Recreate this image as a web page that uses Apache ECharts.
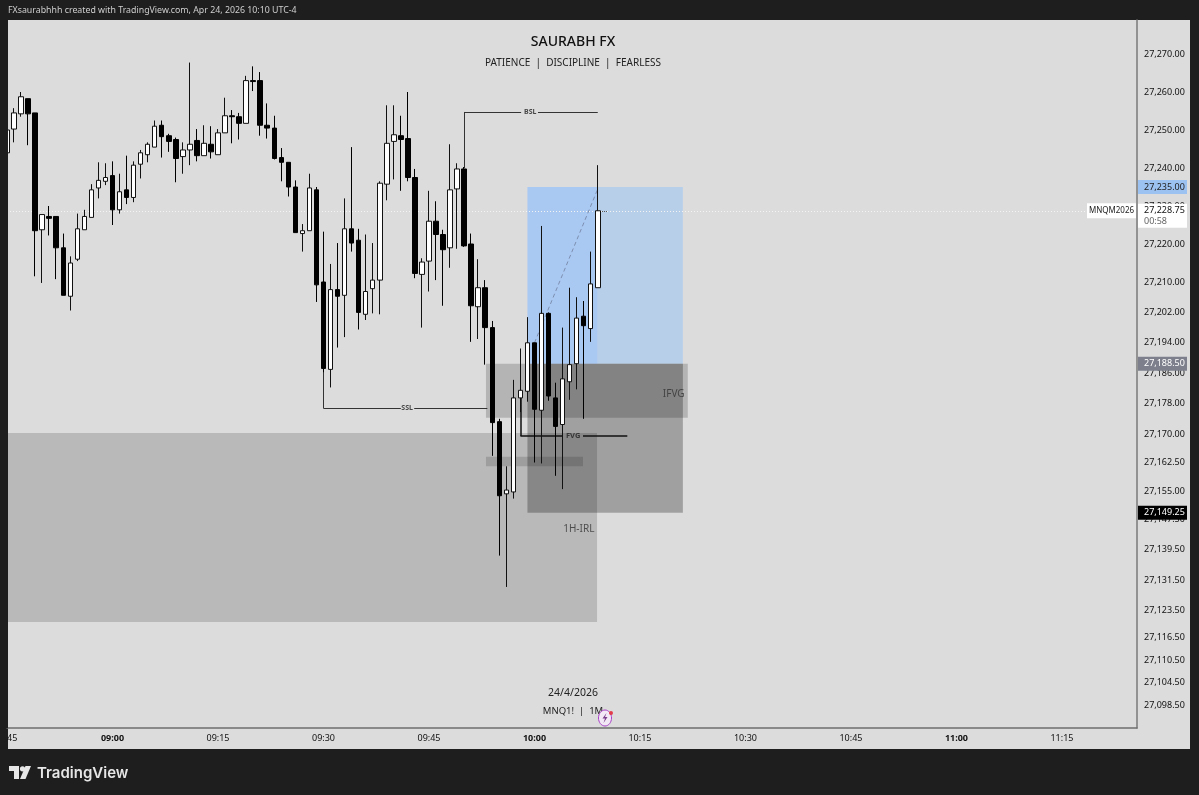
<!DOCTYPE html>
<html>
<head>
<meta charset="utf-8">
<title>SAURABH FX</title>
<script src="https://cdn.jsdelivr.net/npm/echarts@6/dist/echarts.min.js"></script>
<style>
  html, body { margin: 0; padding: 0; background: #1e1e1e; }
  #chart { width: 1199px; height: 795px; }
</style>
</head>
<body>
<div id="chart"></div>
<script>
// one candle per minute, first one is 08:45 (minutes since midnight)
const startMinute = 525
const opens = [27244,27250.25,27254.25,27258.25,27254.5,27223.75,27227.25,27227.25,27219,27206.25,27216,27223.75,27227,27234.75,27236.5,27238,27229,27234.25,27232.25,27241,27243.5,27245.5,27251.25,27248.5,27247.5,27243,27244.75,27247.25,27243.25,27246.25,27243.5,27249.25,27253.75,27253.5,27251.75,27263,27263,27251.25,27250.5,27242.75,27241.5,27235,27222.75,27223.5,27234.25,27210,27187,27208,27206.5,27224,27221,27201.5,27208.25,27210.5,27235.75,27247,27248.5,27247.75,27237.5,27212,27215.5,27226,27222.5,27219,27234.5,27239.75,27220,27203.5,27208.5,27198,27173.25,27154.25,27154.75,27179.5,27181.25,27194,27176.25,27201.75,27179.5,27172.5,27183.75,27188.5,27201,27197.75,27208.5]
const closes = [27250,27254.5,27258.75,27254.25,27223.5,27227.75,27226.75,27219,27206.5,27215,27224,27227.25,27234.25,27236.75,27237.5,27229,27233.75,27232.25,27240.75,27244,27246.25,27251,27248.25,27247,27242.5,27244.75,27246.25,27243.25,27246.5,27244.25,27249.25,27253.75,27253.5,27251.75,27263,27262.75,27251.25,27250.5,27242.5,27241.5,27235,27223,27223.5,27234.75,27209.25,27187.25,27208,27206.25,27224,27220.25,27202,27207.5,27210.5,27236,27246.5,27248.75,27247.5,27237.5,27212.25,27215.25,27226,27222.5,27218.5,27234.25,27239.75,27219.5,27203.75,27208.5,27198,27173,27153.75,27155.25,27179.5,27181.5,27194,27176.5,27201.75,27180,27172,27184.5,27188.25,27200.5,27198.5,27209.5,27228.75]
const lows = [27243.75,27246.75,27253.5,27246,27211.5,27209.75,27222.25,27210.75,27206.5,27202.5,27215.5,27223.75,27227,27232,27235.5,27225,27228,27230.5,27231,27237.25,27241.5,27245.5,27242.75,27244.25,27236.25,27238.5,27240.75,27241.75,27243.25,27242.5,27243.5,27249.25,27246.5,27247.5,27251.75,27260.25,27248.5,27247.75,27242.25,27236.5,27232.5,27223,27218,27223.5,27204.75,27186.25,27182.25,27192.75,27195.5,27218,27197.5,27200,27201.75,27201.5,27231.5,27237,27234,27236.5,27211,27198,27207.5,27210.5,27203.75,27213.75,27218.75,27219.25,27194.25,27195,27188.25,27164.25,27138,27129.75,27153,27175.75,27178.5,27162.5,27162.25,27178.75,27159,27155.5,27179,27181.75,27174,27194.25,27208.5]
const highs = [27250.25,27255.75,27260,27258.25,27254.5,27227.75,27230,27227.25,27222.75,27216.75,27228,27229,27235.75,27241.5,27241.25,27241.75,27238.5,27243.25,27241.75,27244.75,27246.75,27252.5,27252.5,27249,27248,27246.75,27267.75,27250.25,27251.25,27251,27250.25,27258.5,27255.25,27254.5,27264.25,27266.75,27265.25,27257,27253.75,27245.25,27241.5,27236.75,27225.25,27238.5,27235,27223.25,27214.75,27220.25,27232,27245.5,27224,27222.5,27220.25,27236.5,27256.5,27256.5,27253.75,27260,27239.75,27216.25,27234,27231.25,27223.75,27246.25,27241.25,27240.25,27222.75,27216,27210.5,27199.75,27174,27161.5,27184.25,27192.5,27200.75,27194,27224.75,27202,27183.5,27198,27208.5,27206,27205,27218,27240.75]

const priceTicks = [27270,27260,27250,27240,27230,27220,27210,27202,27194,27186,27178,27170,27162.5,27155,27147.5,27139.5,27131.5,27123.5,27116.5,27110.5,27104.5,27098.5]
const lastPrice = 27228.75
const targetPrice = 27235
const entryPrice = 27188.5
const stopPrice = 27149.25

// zones: minute from, minute to, price top, price bottom
const irlZone = [525, 608.9, 27170.25, 27120.5]
const targetZoneLeft = [599, 609, targetPrice, entryPrice]
const targetZoneRight = [609, 621.1, targetPrice, entryPrice]
const stopZone = [599, 621.1, entryPrice, stopPrice]
const ifvgZone = [593.1, 621.8, entryPrice, 27174.25]
const fvgStrip = [593.1, 606.9, 27164, 27161.5]

// drawn lines: minute, price, minute, price
const bslLines = [[590, 27254.75, 590, 27240], [590, 27254.75, 598.1, 27254.75], [600.5, 27254.75, 609, 27254.75]]
const sslLines = [[570, 27176.75, 570, 27187.25], [570, 27176.75, 581, 27176.75], [582.9, 27176.75, 593.3, 27176.75]]
const fvgLines = [[598, 27169.5, 598, 27179.75], [598, 27169.5, 604, 27169.5], [606.9, 27169.5, 613.2, 27169.5]]
const tradePath = [[600, 27194], [609, 27234.5]]
const lastPriceDash = [[609.6, lastPrice], [610.4, lastPrice]]

const lineNames = ['BSL', 'SSL', 'FVG']
const lineNameMinutes = [599.4, 581.9, 605.5]
const lineNamePrices = [27254.75, 27176.75, 27169.5]
const zoneNames = ['IFVG', '1H-IRL']
const zoneNameMinutes = [619.8, 606.3]
const zoneNamePrices = [27180.5, 27145]

const FONT = '"Noto Sans", sans-serif'

function zone(z, color) {
  return [
    { xAxis: z[0], yAxis: z[2], itemStyle: { color: color } },
    { xAxis: z[1], yAxis: z[3] }
  ]
}

function segment(s, color, width) {
  return [
    { coord: [s[0], s[1]], lineStyle: { color: color, width: width, type: 'solid' } },
    { coord: [s[2], s[3]] }
  ]
}

function headline(text, left, top, font, size, weight, color) {
  return { text: text, left: left, top: top, padding: 0, textAlign: left === 573 ? 'center' : 'left',
    textStyle: { fontFamily: font, fontSize: size, fontWeight: weight, color: color } }
}

const chart = echarts.init(document.getElementById('chart'))

const option = {
  backgroundColor: '#1e1e1e',
  animation: false,
  grid: { left: 7, right: 62, top: 20, bottom: 67 },
  title: [
    headline('SAURABH FX', 573, 35, FONT, 14, 500, '#111'),
    headline('PATIENCE  |  DISCIPLINE  |  FEARLESS', 573, 58, FONT, 10, 'normal', '#222'),
    headline('24/4/2026', 573, 688, FONT, 10.5, 'normal', '#222'),
    headline('MNQ1!  |  1M', 573, 706, FONT, 9.5, 'normal', '#222'),
    headline('FXsaurabhhh created with TradingView.com, Apr 24, 2026 10:10 UTC-4', 8, 6, FONT, 8.8, 'normal', '#cfcfcf'),
    headline('TradingView', 37, 766, '"Inter", sans-serif', 15, 600, '#e6e6e6')
  ],
  xAxis: {
    type: 'value',
    min: startMinute,
    max: 685.67,
    interval: 15,
    splitLine: { show: false },
    axisTick: { show: false },
    axisLine: { onZero: false, lineStyle: { color: '#6e6e6e', width: 1.5 } },
    axisLabel: {
      margin: 6,
      showMaxLabel: false,
      alignMinLabel: 'left',
      fontFamily: FONT,
      fontSize: 9,
      color: '#111',
      formatter: function (m) {
        const h = Math.floor(m / 60)
        const min = m % 60
        if (m === startMinute) return '45'
        const text = (h < 10 ? '0' : '') + h + ':' + (min < 10 ? '0' : '') + min
        return min === 0 ? '{b|' + text + '}' : text
      },
      rich: { b: { fontFamily: FONT, fontSize: 9, fontWeight: 'bold', color: '#111' } }
    }
  },
  yAxis: {
    type: 'value',
    position: 'right',
    min: 27092.63,
    max: 27278.95,
    scale: true,
    splitLine: { show: false },
    axisTick: { show: false },
    axisLine: { show: true, lineStyle: { color: '#7a7a7a', width: 1.5 } },
    axisLabel: {
      customValues: priceTicks,
      margin: 7,
      padding: [2, 0, 0, 0],
      fontFamily: FONT,
      fontSize: 9,
      color: '#111',
      formatter: function (p) {
        return p.toLocaleString('en-US', { minimumFractionDigits: 2, maximumFractionDigits: 2 })
      }
    }
  },
  series: [
    {
      type: 'candlestick',
      barWidth: 5,
      z: 5,
      encode: { x: 0, y: [1, 2, 3, 4] },
      data: opens.map((o, i) => [startMinute + i, o, closes[i], lows[i], highs[i]]),
      itemStyle: { color: '#ffffff', color0: '#000000', borderColor: '#111111', borderColor0: '#000000', borderWidth: 1 },
      markArea: {
        silent: true,
        data: [
          zone(targetZoneLeft, '#a9c8f2'),
          zone(targetZoneRight, '#b8cfea'),
          zone(irlZone, 'rgba(0,0,0,0.155)'),
          zone(stopZone, 'rgba(0,0,0,0.27)'),
          zone(ifvgZone, 'rgba(0,0,0,0.18)'),
          zone(fvgStrip, 'rgba(0,0,0,0.14)')
        ]
      },
      markLine: {
        silent: true,
        symbol: 'none',
        label: { show: false },
        data: [
          { yAxis: lastPrice, lineStyle: { color: '#f4f4f4', width: 1, type: [1, 2] } }
        ]
      }
    },
    {
      // BSL / SSL / FVG brackets and the trade path, above the candles
      type: 'line',
      z: 6,
      data: [],
      markLine: {
        silent: true,
        symbol: 'none',
        label: { show: false },
        data: bslLines.map(s => segment(s, '#333', 1))
          .concat(sslLines.map(s => segment(s, '#333', 1)))
          .concat(fvgLines.map(s => segment(s, '#111', 1.5)))
          .concat([[
            { coord: tradePath[0], lineStyle: { color: '#7d8fb0', width: 1, type: [4, 3] } },
            { coord: tradePath[1] }
          ], [
            { coord: lastPriceDash[0], lineStyle: { color: '#555', width: 1, type: [1, 1] } },
            { coord: lastPriceDash[1] }
          ]])
      }
    },
    {
      type: 'scatter',
      symbolSize: 0,
      z: 7,
      silent: true,
      label: { show: true, position: 'inside', formatter: '{b}', fontFamily: FONT },
      data: lineNames.map((n, i) => ({
        name: n,
        value: [lineNameMinutes[i], lineNamePrices[i]],
        label: { fontSize: n === 'FVG' ? 7.5 : 7, fontWeight: 'bold', color: '#222' }
      })).concat(zoneNames.map((n, i) => ({
        name: n,
        value: [zoneNameMinutes[i], zoneNamePrices[i]],
        label: { fontSize: 10, color: '#333' }
      })))
    }
  ]
}

chart.setOption(option)

// axis panels behind the grid, price tags on top of the axis labels
function tag(price, text, bg, fg) {
  const y = chart.convertToPixel({ yAxisIndex: 0 }, price)
  return {
    type: 'group',
    z: 100,
    children: [
      { type: 'rect', z: 100, shape: { x: 1138, y: y - 7, width: 49, height: 14 }, style: { fill: bg } },
      { type: 'text', z: 101, style: { x: 1144, y: y, text: text, fill: fg, font: '9px ' + FONT, textVerticalAlign: 'middle' } }
    ]
  }
}

const lastY = chart.convertToPixel({ yAxisIndex: 0 }, lastPrice)

chart.setOption({
  graphic: [
    { type: 'rect', z: -10, silent: true, shape: { x: 8, y: 20, width: 1182, height: 729 }, style: { fill: '#dcdcdc' } },
    // the 08:45 candle is cut off at the panel edge
    { type: 'rect', z: 50, silent: true, shape: { x: 0, y: 20, width: 8, height: 708 }, style: { fill: '#1e1e1e' } },
    tag(targetPrice, '27,235.00', '#9cc2f2', '#222'),
    tag(entryPrice, '27,188.50', '#7d7f8c', '#fff'),
    tag(stopPrice, '27,149.25', '#000', '#fff'),
    { type: 'rect', z: 100, shape: { x: 1087, y: lastY - 7.5, width: 49, height: 15 }, style: { fill: '#fff' } },
    { type: 'text', z: 101, style: { x: 1111.5, y: lastY, text: 'MNQM2026', fill: '#222', font: '8px ' + FONT, textAlign: 'center', textVerticalAlign: 'middle' } },
    { type: 'rect', z: 100, shape: { x: 1138, y: lastY - 7, width: 49, height: 24 }, style: { fill: '#fff' } },
    { type: 'text', z: 101, style: { x: 1144, y: lastY, text: '27,228.75', fill: '#111', font: '9px ' + FONT, textVerticalAlign: 'middle' } },
    { type: 'text', z: 101, style: { x: 1144, y: lastY + 11, text: '00:58', fill: '#666', font: '9px ' + FONT, textVerticalAlign: 'middle' } },
    // replay badge
    { type: 'ellipse', z: 100, shape: { cx: 605, cy: 718, rx: 6.5, ry: 8 }, style: { fill: '#f3e9f6', stroke: '#a83fc7', lineWidth: 1 } },
    { type: 'polygon', z: 101, shape: { points: [[606.5, 713], [602.5, 718.5], [605, 718.5], [603.5, 723], [607.5, 717], [605, 717]] }, style: { fill: '#7a3d8c' } },
    { type: 'circle', z: 102, shape: { cx: 611, cy: 713, r: 2 }, style: { fill: '#e23b4a' } },
    // TradingView logo
    { type: 'polygon', z: 100, shape: { points: [[9, 766], [19, 766], [19, 779], [14, 779], [14, 771], [9, 771]] }, style: { fill: '#e6e6e6' } },
    { type: 'circle', z: 100, shape: { cx: 22.5, cy: 768.8, r: 2.6 }, style: { fill: '#e6e6e6' } },
    { type: 'polygon', z: 100, shape: { points: [[25.5, 766], [31, 766], [25.5, 779], [20, 779]] }, style: { fill: '#e6e6e6' } }
  ]
})

window.addEventListener('resize', chart.resize)
</script>
</body>
</html>
